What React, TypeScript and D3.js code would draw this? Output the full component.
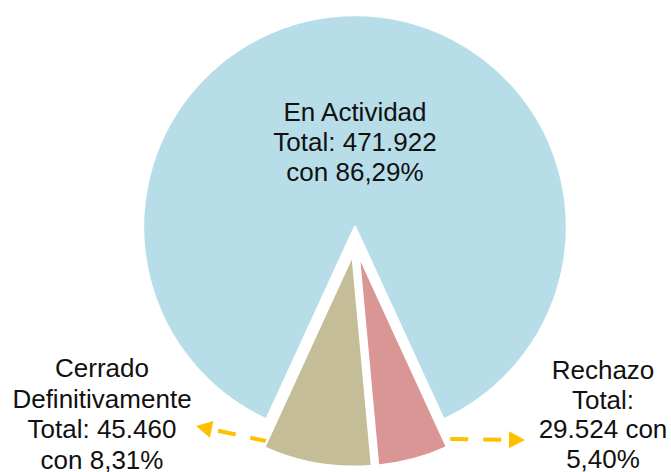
import React from "react";
import * as d3 from "d3";

const categories = ["En Actividad", "Rechazo", "Cerrado Definitivamente"];
const values = [471922, 29524, 45460];
const colors = ["#B7DEE8", "#D99694", "#C4BD97"];
const labelLines = [
  ["En Actividad", "Total: 471.922", "con 86,29%"],
  ["Rechazo", "Total:", "29.524 con", "5,40%"],
  ["Cerrado", "Definitivamente", "Total: 45.460", "con 8,31%"],
];

const W = 671;
const H = 472;
const cx = 355;
const cy = 241;
const R = 212;
const explode = 14;

export default function App() {
  const total = d3.sum(values);
  const start = -Math.PI * (values[0] / total);
  const pie = d3
    .pie<number>()
    .sort(null)
    .startAngle(start)
    .endAngle(start + 2 * Math.PI);
  const arcs = pie(values);
  const arcGen = d3.arc<d3.PieArcDatum<number>>().innerRadius(0).outerRadius(R);

  const off = arcs.map((a) => {
    const m = (a.startAngle + a.endAngle) / 2;
    return [Math.sin(m) * explode, -Math.cos(m) * explode];
  });

  // label anchor positions (layout)
  const labelPos = [
    { x: 355, y: 121, lh: 30 },
    { x: 603, y: 379, lh: 29.7 },
    { x: 102, y: 377, lh: 30.7 },
  ];

  // leader lines from slice outer edges to labels
  const pt = (i: number, ang: number, r: number) => [
    cx + off[i][0] + Math.sin(ang) * r,
    cy + off[i][1] - Math.cos(ang) * r,
  ];
  const redStart = pt(1, arcs[1].startAngle - 0.03, 206);
  const tanStart = pt(2, arcs[2].endAngle - 0.005, 205);
  const leaders = [
    { from: redStart, to: [525, 440] },
    { from: tanStart, to: [196, 426] },
  ];
  const headLen = 16;
  const headW = 17;

  return (
    <svg
      width={W}
      height={H}
      style={{ position: "absolute", left: 0, top: 0, background: "#fff" }}
      fontFamily="'Liberation Sans', Arial, sans-serif"
    >
      {leaders.map((l, i) => {
        const dx = l.to[0] - l.from[0];
        const dy = l.to[1] - l.from[1];
        const len = Math.hypot(dx, dy);
        const ux = dx / len;
        const uy = dy / len;
        const bx = l.to[0] - ux * headLen;
        const by = l.to[1] - uy * headLen;
        const px = -uy * (headW / 2);
        const py = ux * (headW / 2);
        return (
          <g key={i}>
            <line
              x1={l.from[0]}
              y1={l.from[1]}
              x2={bx - ux * 6}
              y2={by - uy * 6}
              stroke="#FFC000"
              strokeWidth={4}
              strokeDasharray="18 15"
            />
            <path
              d={`M${l.to[0]},${l.to[1]} L${bx + px},${by + py} L${bx - px},${by - py} Z`}
              fill="#FFC000"
            />
          </g>
        );
      })}
      {arcs.map((a, i) => (
        <path
          key={categories[i]}
          d={arcGen(a) || ""}
          transform={`translate(${cx + off[i][0]},${cy + off[i][1]})`}
          fill={colors[i]}
          stroke="#fff"
          strokeWidth={2.5}
          strokeLinejoin="round"
        />
      ))}
      {labelLines.map((lines, i) => (
        <text
          key={i}
          x={labelPos[i].x}
          y={labelPos[i].y}
          textAnchor="middle"
          fontSize={26}
          fill="#111"
        >
          {lines.map((t, j) => (
            <tspan key={j} x={labelPos[i].x} y={labelPos[i].y + j * labelPos[i].lh}>
              {t}
            </tspan>
          ))}
        </text>
      ))}
    </svg>
  );
}
